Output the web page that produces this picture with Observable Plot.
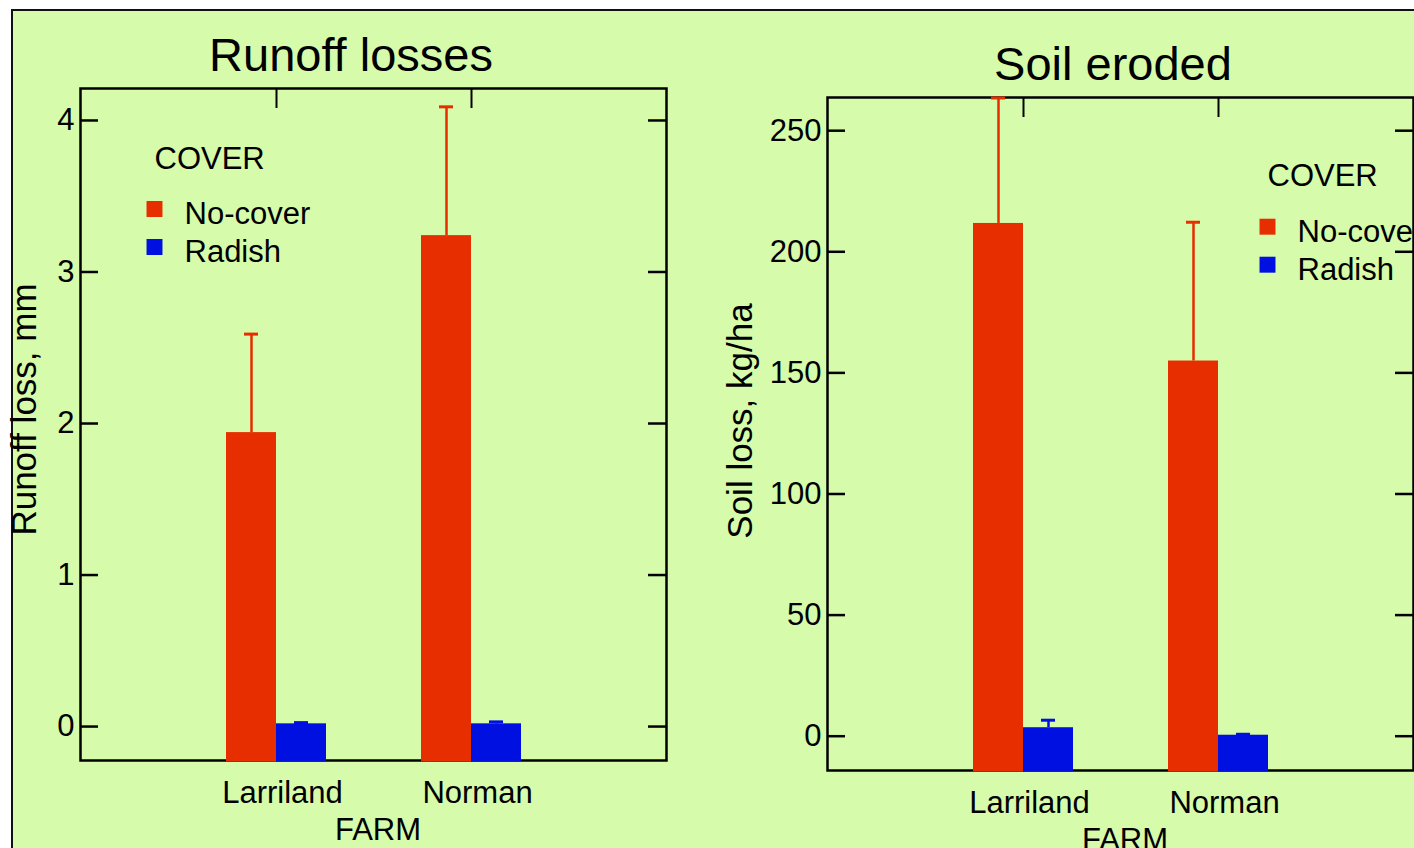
<!DOCTYPE html>
<html>
<head>
<meta charset="utf-8">
<script src="https://cdn.jsdelivr.net/npm/d3@7"></script>
<script src="https://cdn.jsdelivr.net/npm/@observablehq/plot@0.6"></script>
<style>
  html, body { margin: 0; padding: 0; background: #fff; overflow: hidden; }
  #page { position: relative; width: 1414px; height: 848px; overflow: hidden; font-family: "Liberation Sans", Arial, sans-serif; }
  #panel { position: absolute; left: 11px; top: 9px; width: 1430px; height: 870px; background: #d6fbaa; border-top: 2px solid #111; border-left: 2px solid #111; }
  .chart { position: absolute; top: 0; width: 707px; height: 848px; }
</style>
</head>
<body>
<div id="page">
  <div id="panel"></div>
  <div id="runoff" class="chart" style="left:0"></div>
  <div id="soil" class="chart" style="left:707px"></div>
</div>
<script>
// Farms and cover treatments
const farms = ["Larriland", "Norman"];
const covers = ["No-cover", "Radish"];
const coverColors = ["#e62e00", "#0010e0"];

// Runoff loss (mm): mean and standard error, by farm
const runoffNoCover = [1.94, 3.24];
const runoffNoCoverSE = [0.65, 0.85];
const runoffRadish = [0.018, 0.018];
const runoffRadishSE = [0.008, 0.013];

// Soil loss (kg/ha): mean and standard error, by farm
const soilNoCover = [211.7, 154.9];
const soilNoCoverSE = [51.8, 57.3];
const soilRadish = [3.5, 0.4];
const soilRadishSE = [3.1, 0.4];

// Axis ticks
const runoffTicks = [0, 1, 2, 3, 4];
const soilTicks = [0, 50, 100, 150, 200, 250];

const FONT = "'Liberation Sans', Arial, Helvetica, sans-serif";

function table(noCover, noCoverSE, radish, radishSE) {
  const rows = [];
  farms.forEach((farm, i) => {
    rows.push({farm, cover: covers[0], value: noCover[i], se: noCoverSE[i]});
    rows.push({farm, cover: covers[1], value: radish[i], se: radishSE[i]});
  });
  return rows;
}

function barChart({rows, ticks, yDomain, title, yLabel, margin, titleDx, yLabelDx, yLabelDy, legend}) {
  const width = 707, height = 848;
  const frameW = width - margin.left - margin.right;
  const frameH = height - margin.top - margin.bottom;
  const half = 50; // each cover takes half of a farm's band
  const marks = [Plot.frame({stroke: "#000", strokeWidth: 2.5})];

  covers.forEach((cover, i) => {
    const sub = rows.filter(d => d.cover === cover);
    const side = i === 0 ? -1 : 1;
    marks.push(
      // bars rise from the bottom of the frame
      Plot.barY(sub, {
        x: "farm", y1: yDomain[0], y2: "value", fill: "cover",
        insetLeft: i === 0 ? 0 : half, insetRight: i === 0 ? half : 0, insetBottom: -1.5
      }),
      // upper error bar with a short cap
      Plot.ruleX(sub, {x: "farm", y1: "value", y2: d => d.value + d.se, stroke: "cover", strokeWidth: 2.5, dx: side * half / 2}),
      Plot.tickY(sub, {x: "farm", y: d => d.value + d.se, stroke: "cover", strokeWidth: 3, dx: side * half / 2, insetLeft: 43, insetRight: 43})
    );
  });

  marks.push(
    // inward ticks on the left, right and top edges of the frame
    Plot.tickY(ticks, {y: d => d, insetRight: frameW - 18, stroke: "#000", strokeWidth: 2.5}),
    Plot.tickY(ticks, {y: d => d, insetLeft: frameW - 18, stroke: "#000", strokeWidth: 2.5}),
    Plot.tickX(farms, {x: d => d, insetBottom: frameH - 20, stroke: "#000", strokeWidth: 2}),
    Plot.axisY(ticks, {anchor: "left", tickSize: 0, tickPadding: 6, fontSize: 31, tickFormat: d3.format("d"), label: null}),
    Plot.axisX(farms, {anchor: "bottom", tickSize: 0, tickPadding: 20, fontSize: 31, label: null, dx: 6}),
    Plot.text([title], {text: d => d, frameAnchor: "top", lineAnchor: "bottom", dx: titleDx, dy: -18, fontSize: 47}),
    Plot.text([yLabel], {text: d => d, frameAnchor: "left", rotate: -90, textAnchor: "middle", lineAnchor: "middle", dx: yLabelDx, dy: yLabelDy, fontSize: 35}),
    Plot.text(["FARM"], {text: d => d, frameAnchor: "bottom", lineAnchor: "bottom", dx: 4.5, dy: 79, fontSize: 31}),
    // legend
    Plot.text(["COVER"], {text: d => d, frameAnchor: "top-left", textAnchor: "start", lineAnchor: "bottom", dx: legend.dx, dy: legend.dy, fontSize: 31})
  );
  covers.forEach((cover, i) => {
    marks.push(
      Plot.dot([cover], {fill: d => d, symbol: "square", r: 9, frameAnchor: "top-left", dx: legend.dx, dy: legend.dy + 40.5 + i * 38}),
      Plot.text([cover], {text: d => d, frameAnchor: "top-left", textAnchor: "start", lineAnchor: "bottom", dx: legend.dx + 30, dy: legend.dy + 55.5 + i * 38, fontSize: 31})
    );
  });

  return Plot.plot({
    width, height,
    marginTop: margin.top, marginRight: margin.right, marginBottom: margin.bottom, marginLeft: margin.left,
    style: {background: "transparent", overflow: "visible", fontFamily: FONT, fontSize: "30px", color: "#000"},
    x: {type: "band", domain: farms, paddingInner: 0.488, paddingOuter: 0.744},
    y: {domain: yDomain},
    color: {domain: covers, range: coverColors},
    marks
  });
}

document.getElementById("runoff").append(barChart({
  rows: table(runoffNoCover, runoffNoCoverSE, runoffRadish, runoffRadishSE),
  ticks: runoffTicks,
  yDomain: [-0.224, 4.211],
  title: "Runoff losses",
  yLabel: "Runoff loss, mm",
  margin: {top: 88, right: 41, bottom: 88, left: 80},
  titleDx: -22.5, yLabelDx: -56, yLabelDy: -15,
  legend: {dx: 74, dy: 80}
}));

document.getElementById("soil").append(barChart({
  rows: table(soilNoCover, soilNoCoverSE, soilRadish, soilRadishSE),
  ticks: soilTicks,
  yDomain: [-14.16, 263.7],
  title: "Soil eroded",
  yLabel: "Soil loss, kg/ha",
  margin: {top: 97, right: 1, bottom: 78, left: 120},
  titleDx: -7.5, yLabelDx: -87, yLabelDy: -13,
  legend: {dx: 440, dy: 88.7}
}));
</script>
</body>
</html>
